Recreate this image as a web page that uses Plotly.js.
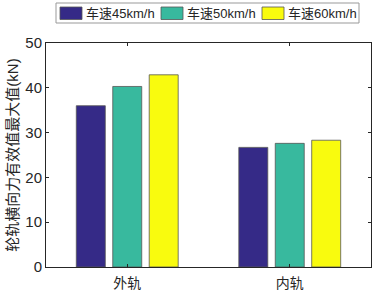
<!DOCTYPE html>
<html><head><meta charset="utf-8">
<script src="https://cdn.plot.ly/plotly-3.0.1.min.js"></script>
<style>html,body{margin:0;padding:0;background:#fff}#c{width:373px;height:292px}</style>
</head><body><div id="c"></div>
<script>
const categories = ['外轨', '内轨'];
const seriesNames = ['车速45km/h', '车速50km/h', '车速60km/h'];
const v45 = [36.0, 26.7];
const v50 = [40.3, 27.6];
const v60 = [42.9, 28.3];
const colors = ['#352a87', '#38b99e', '#f9fb0e'];
const yTicks = [0, 10, 20, 30, 40, 50];
const font = 'Liberation Sans, Arial, Noto Sans CJK SC, sans-serif';
const vals = [v45, v50, v60];
const traces = vals.map((v, i) => ({
  type: 'bar', x: categories, y: v, name: seriesNames[i],
  marker: {color: colors[i], line: {color: '#555', width: 0.8}}
}));

// manual legend (pixel -> paper conversion)
const L = 46, T = 43, W = 325, H = 224;
const px = x => (x - L) / W;
const py = y => (T + H - y) / H;
const shapes = [{type: 'rect', xref: 'paper', yref: 'paper', x0: px(56), x1: px(359), y0: py(23), y1: py(3),
  line: {color: '#999', width: 1}, fillcolor: '#fff', layer: 'above'}];
const annotations = [];
const swX = [60, 161, 262];
seriesNames.forEach((n, i) => {
  shapes.push({type: 'rect', xref: 'paper', yref: 'paper', x0: px(swX[i]), x1: px(swX[i] + 22),
    y0: py(19.5), y1: py(7), fillcolor: colors[i], line: {color: '#555', width: 0.8}, layer: 'above'});
  annotations.push({xref: 'paper', yref: 'paper', x: px(swX[i] + 24), y: py(13.5), xanchor: 'left', yanchor: 'middle',
    text: n, showarrow: false, font: {size: 13, color: '#262626'}});
});

const layout = {
  width: 373, height: 292,
  margin: {l: L, r: 2, t: T, b: 25},
  paper_bgcolor: '#fff', plot_bgcolor: '#fff',
  font: {family: font, size: 13, color: '#262626'},
  barmode: 'group', bargap: 0.327, bargroupgap: 0.205,
  showlegend: false,
  shapes: shapes, annotations: annotations,
  xaxis: {type: 'category', range: [-0.5, 1.5], showline: true, mirror: 'ticks',
    linecolor: '#262626', linewidth: 1, ticks: 'inside', ticklen: 3, tickcolor: '#262626',
    showgrid: false, tickfont: {size: 14}, ticklabelstandoff: 3},
  yaxis: {range: [0, 50], tickvals: yTicks, showline: true, mirror: 'ticks',
    linecolor: '#262626', linewidth: 1, ticks: 'inside', ticklen: 3, tickcolor: '#262626',
    showgrid: false, zeroline: false, tickfont: {size: 15},
    title: {text: '轮轨横向力有效值最大值(kN)', font: {size: 15}, standoff: 3}}
};
Plotly.newPlot('c', traces, layout, {displayModeBar: false, staticPlot: true});
</script></body></html>
